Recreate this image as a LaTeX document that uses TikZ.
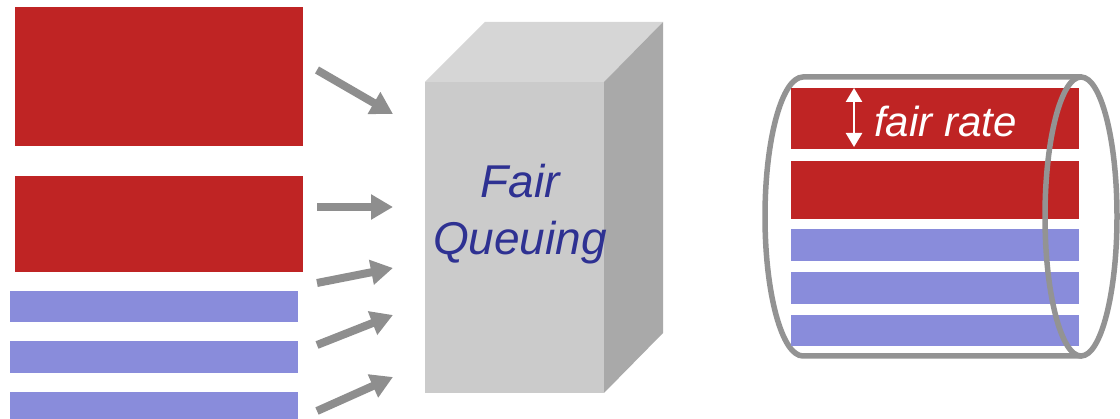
\documentclass[tikz,border=0pt]{standalone}
\usepackage{fontspec}
\setmainfont{Liberation Sans}
\usetikzlibrary{arrows.meta}
\definecolor{flowred}{HTML}{BF2424}
\definecolor{flowblue}{HTML}{898CDB}
\definecolor{arrowgray}{HTML}{8E8E8E}
\definecolor{pipegray}{HTML}{939393}
\definecolor{boxfront}{HTML}{CBCBCB}
\definecolor{boxtop}{HTML}{D6D6D6}
\definecolor{boxside}{HTML}{A9A9A9}
\definecolor{labelblue}{HTML}{2E3192}
\tikzset{
  redflow/.style={fill=flowred, draw=none},
  blueflow/.style={fill=flowblue, draw=none},
  inarrow/.style={draw=arrowgray, line width=8pt,
    -{Triangle[width=24pt,length=22pt]}},
  pipe/.style={draw=pipegray, line width=5.5pt},
  fqlabel/.style={text=labelblue, font=\fontsize{46}{54}\selectfont\itshape, inner sep=0pt, anchor=base},
}
\begin{document}
\begin{tikzpicture}[x=1pt,y=-1pt]
\useasboundingbox (0,0) rectangle (1120,419);

% incoming flows
\fill[redflow]  (15,7)   rectangle (303,146);
\fill[redflow]  (15,176) rectangle (303,272);
\fill[blueflow] (10,291) rectangle (298,322);
\fill[blueflow] (10,341) rectangle (298,373);
\fill[blueflow] (10,392) rectangle (298,419);

% arrows into the scheduler
\coordinate (s1) at (317,70);  \coordinate (e1) at (393,114);
\coordinate (s2) at (317,207); \coordinate (e2) at (393,207);
\coordinate (s3) at (317,283); \coordinate (e3) at (393,268);
\coordinate (s4) at (317,345); \coordinate (e4) at (393,315);
\coordinate (s5) at (317,411); \coordinate (e5) at (393,377);
\foreach \i in {1,...,5} \draw[inarrow] (s\i) -- (e\i);

% fair queuing box
\fill[boxtop]   (425,82) -- (485,22) -- (663,22) -- (604,82) -- cycle;
\fill[boxside]  (604,82) -- (663,22) -- (663,333) -- (604,393) -- cycle;
\fill[boxfront] (425,82) rectangle (604,393);
\node[fqlabel] (fairtxt) at (520,198) {Fair};
\node[fqlabel] (queuingtxt) at (520,255) {Queuing};

% output link
\draw[pipe] (1082,77) -- (803,77) arc[start angle=270, end angle=90, x radius=38, y radius=139.5] -- (1082,356);
\fill[redflow]  (791,88)  rectangle (1079,149);
\fill[redflow]  (791,161) rectangle (1079,219);
\fill[blueflow] (791,229) rectangle (1079,261);
\fill[blueflow] (791,272) rectangle (1079,304);
\fill[blueflow] (791,315) rectangle (1079,346);
\draw[pipe] (1081,216.5) ellipse[x radius=36, y radius=139.5];

% fair rate marker
\coordinate (rt) at (854,88);
\coordinate (rb) at (854,147);
\draw[white, line width=2.5pt, {Triangle[width=16pt,length=14pt]}-{Triangle[width=16pt,length=14pt]}] (rt) -- (rb);
\node[text=white, font=\fontsize{42}{48}\selectfont\itshape, inner sep=0pt, anchor=base west] (ratetxt) at (874,137) {fair rate};
\end{tikzpicture}
\end{document}
